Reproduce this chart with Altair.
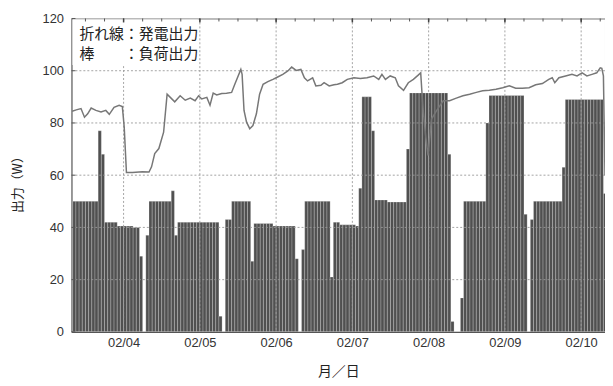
import altair as alt
import pandas as pd

# ---- data ----
# load output (bars), hourly, as run lengths starting at hour 8 of 02/03
load_levels = [50, 77, 68, 42, 40.5, 40, 29, 0, 37, 50, 54, 37, 42, 6, 0, 43, 50, 27,
               41.5, 40.5, 28, 0, 31.5, 50, 21, 42, 41, 40.5, 55, 90, 77, 50.5, 49.7, 70,
               91.5, 68, 4, 0, 13, 50, 80, 90.5, 45, 0, 43, 50, 63, 89, 53]
load_counts = [8, 1, 1, 4, 5, 2, 1, 1, 1, 7, 1, 1, 13, 1, 1, 2, 6, 1,
               6, 7, 1, 1, 1, 8, 1, 2, 5, 1, 1, 3, 1, 4, 6, 1,
               12, 1, 1, 2, 1, 7, 1, 11, 1, 1, 1, 9, 1, 12, 1]
first_hour = 8

# generation output (line): hours since 02/03 00:00, watts
gen_hours = [7.8, 9.1, 10.6, 11.7, 12.7, 13.8, 15.3, 16.9, 18.4, 19.5, 21.0, 22.6, 23.6,
             24.2, 24.9, 26.8, 29.9, 32.0, 32.8, 33.8, 35.1, 36.6, 37.7, 38.7, 40.1, 41.8,
             43.4, 45.0, 46.5, 47.6, 48.6, 50.2, 51.2, 52.2, 53.3, 54.9, 56.4, 58.0, 59.0,
             60.9, 61.3, 61.9, 62.7, 63.7, 64.7, 65.8, 66.8, 67.9, 69.4, 71.0, 72.5, 74.1,
             75.7, 76.9, 78.3, 79.8, 80.9, 81.9, 83.5, 84.5, 86.1, 87.1, 88.7, 90.2, 91.3,
             92.8, 94.4, 96.5, 98.5, 100.6, 102.7, 104.3, 105.3, 106.4, 107.9, 109.5, 110.5,
             112.1, 113.6, 115.2, 116.8, 117.5, 117.9, 118.3, 119.1, 119.8, 120.9, 122.5,
             124.6, 126.6, 128.7, 130.8, 132.9, 135.0, 137.0, 139.1, 141.2, 143.3, 145.4,
             147.4, 149.5, 151.6, 153.7, 155.8, 157.8, 158.9, 159.7, 161.0, 163.1, 165.1,
             166.7, 168.3, 169.8, 171.4, 172.9, 174.0, 174.5, 175.0, 175.5]
gen_watts = [84.5, 85, 85.5, 82.2, 83.5, 85.7, 84.8, 84.2, 84.8, 83.3, 86, 86.8, 86.3,
             78.4, 61, 61, 61.3, 61.2, 63.2, 68.3, 70.2, 76.5, 91, 89.8, 88.1, 90.4,
             88.7, 89.5, 88.5, 90.4, 89.2, 89.8, 86.8, 91.4, 90.7, 91.3, 91.4, 91.7, 94.8,
             100.5, 98.6, 84.8, 80.3, 77.8, 79, 83.5, 91, 94.8, 95.8, 96.7, 97.6, 98.6,
             99.9, 101.4, 100.1, 100.5, 97.3, 96.1, 97.3, 94.2, 94.4, 95.4, 94.2, 94.6, 94.8,
             95.4, 96.7, 97.3, 97, 97.3, 98, 96.7, 98.6, 96.7, 98, 97.3, 94.2,
             92.5, 95.4, 96.7, 98.4, 99.2, 91.6, 84.7, 74.6, 67.6, 81.5, 84.7,
             88.5, 88.5, 89.5, 90.4, 91, 91.7, 92.3, 92.5, 92.9, 93.5, 94.2,
             93.3, 93.3, 93.5, 94.6, 95.1, 96.7, 97.3, 95.4, 97.3, 98, 98.6,
             98, 99.2, 98, 98.6, 99.2, 101.1, 100.9, 98, 60]

day_ticks = [24, 48, 72, 96, 120, 144, 168]
day_labels = ["02/04", "02/05", "02/06", "02/07", "02/08", "02/09", "02/10"]
y_ticks = [0, 20, 40, 60, 80, 100, 120]
grid_y = [20, 40, 60, 80, 100]
minor_hours = [h for h in range(12, 176, 6)]
legend_lines = ["折れ線：発電出力", "棒　　：負荷出力"]

# ---- tables ----
rows = []
h = first_hour
for v, n in zip(load_levels, load_counts):
    for _ in range(n):
        rows.append({"h": h, "h2": h + 1, "w": v})
        h += 1
load_df = pd.DataFrame(rows)
gen_df = pd.DataFrame({"h": gen_hours, "w": gen_watts})
vgrid_df = pd.DataFrame({"h": day_ticks})
hgrid_df = pd.DataFrame({"w": grid_y})
minor_df = pd.DataFrame({"h": minor_hours})
ytick_df = pd.DataFrame({"w": y_ticks})

xs = alt.Scale(domain=[7.6, 175.5], nice=False, zero=False)
ys = alt.Scale(domain=[0, 120], nice=False)

label_expr = "[" + ",".join("'%s'" % s for s in day_labels) + "][round(datum.value/24)-1]"

x_axis = alt.Axis(values=day_ticks, labelExpr=label_expr, grid=False, ticks=False, tickSize=0,
                  labelFont="Liberation Sans", labelFontSize=13, labelColor="#333333",
                  labelPadding=5, domainColor="#555555", domainWidth=1.2,
                  title="月／日", titleFont="Noto Sans CJK JP", titleFontSize=14,
                  titleFontWeight="normal", titleColor="#222222",
                  titleY=40, titleBaseline="middle")
y_axis = alt.Axis(values=y_ticks, grid=False, ticks=False, tickSize=0,
                  labelFont="Liberation Sans", labelFontSize=13, labelColor="#333333",
                  labelPadding=8, domainColor="#777777",
                  title="出力（W）", titleFont="Noto Sans CJK JP", titleFontSize=13,
                  titleFontWeight="normal", titleColor="#222222",
                  titleX=-54, titleY=164, titleBaseline="middle")

bars = alt.Chart(load_df).mark_rect(color="#505050", stroke="#ffffff", strokeWidth=0.5,
                                    strokeOpacity=0.45, clip=True).encode(
    x=alt.X("h:Q", scale=xs, axis=x_axis),
    x2="h2:Q",
    y=alt.Y("w:Q", scale=ys, axis=y_axis),
    y2=alt.datum(0),
)

grid_style = dict(color="#9a9a9a", strokeWidth=0.9, strokeDash=[2, 2])
vgrid = alt.Chart(vgrid_df).mark_rule(**grid_style).encode(
    x=alt.X("h:Q", scale=xs), y=alt.value(0), y2=alt.value(316))
hgrid = alt.Chart(hgrid_df).mark_rule(**grid_style).encode(
    y=alt.Y("w:Q", scale=ys), x=alt.value(0), x2=alt.value(538))

minor_top = alt.Chart(minor_df).mark_rule(color="#555555", strokeWidth=1).encode(
    x=alt.X("h:Q", scale=xs), y=alt.value(0), y2=alt.value(3))
major_top = alt.Chart(vgrid_df).mark_rule(color="#444444", strokeWidth=1.5).encode(
    x=alt.X("h:Q", scale=xs), y=alt.value(0), y2=alt.value(4))
left_ticks = alt.Chart(ytick_df).mark_rule(color="#555555", strokeWidth=1).encode(
    y=alt.Y("w:Q", scale=ys), x=alt.value(0), x2=alt.value(4))

box = alt.Chart(pd.DataFrame({"k": [0]})).mark_rect(color="white").encode(
    x=alt.value(1), x2=alt.value(128), y=alt.value(1), y2=alt.value(47))

t1 = alt.Chart(pd.DataFrame({"t": [legend_lines[0]]})).mark_text(
    align="left", baseline="middle", font="Noto Sans CJK JP", fontSize=15, color="#222222"
).encode(x=alt.value(8), y=alt.value(16), text="t:N")
t2 = alt.Chart(pd.DataFrame({"t": [legend_lines[1]]})).mark_text(
    align="left", baseline="middle", font="Noto Sans CJK JP", fontSize=15, color="#222222"
).encode(x=alt.value(8), y=alt.value(35.5), text="t:N")

line = alt.Chart(gen_df).mark_line(color="#777777", strokeWidth=1.5, clip=True).encode(
    x=alt.X("h:Q", scale=xs), y=alt.Y("w:Q", scale=ys))

chart = alt.layer(bars, hgrid, vgrid, box, t1, t2, line, minor_top, major_top, left_ticks).properties(
    width=538, height=316,
    autosize=alt.AutoSizeParams(type="none"),
    padding={"left": 64, "top": 9, "right": 0, "bottom": 53},
).configure_view(stroke="#777777", strokeWidth=1)

chart.save("out.html", embed_options={"renderer": "svg", "actions": False})
